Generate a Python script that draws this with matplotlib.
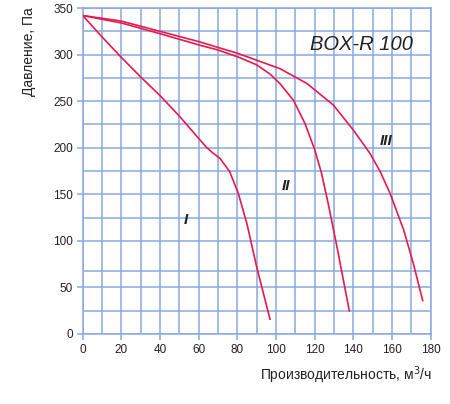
import matplotlib.pyplot as plt
import numpy as np

plt.rcParams['font.family'] = ['Liberation Sans', 'DejaVu Sans']

# curve I
x1 = [0, 10, 20, 30, 40, 50, 60, 64, 67, 71, 76, 80.5, 85, 90, 97]
y1 = [342, 319, 297, 276, 256, 234, 210, 200.5, 195, 188.6, 174.5, 151, 118, 72, 15]
# curve II
x2 = [0, 20, 40, 60, 70, 81, 90, 97, 102, 109, 115, 120, 123.5, 127, 131.5, 138]
y2 = [342, 334, 322.5, 310.5, 305, 297, 289, 279, 269, 251, 226, 198, 173, 140, 94, 24]
# curve III
x3 = [0, 20, 40, 60, 80, 90, 102, 116, 129.6, 140, 148.6, 154, 159, 166, 171, 176]
y3 = [342, 336, 325, 314, 301.5, 294, 285, 269, 246, 219, 194, 174, 151, 112, 76, 35]

xticks = np.arange(0, 181, 20)
yticks = np.arange(0, 351, 50)
xgrid = np.arange(0, 181, 10)
ygrid = [25, 68, 125, 175, 225, 275, 325]

grid_c = '#89a9df'
curve_c = '#e8194b'
text_c = '#222222'

fig = plt.figure(figsize=(4.5, 4.04), dpi=100)
ax = fig.add_axes([0.1838, 0.1733, 0.957 - 0.1838, 0.980 - 0.1733])
ax.set_xlim(0, 180)
ax.set_ylim(0, 350)

for v in xgrid:
    ax.axvline(v, color=grid_c, lw=1.1, zorder=1)
for v in list(yticks) + ygrid:
    ax.axhline(v, color=grid_c, lw=1.1, zorder=1)

for s in ax.spines.values():
    s.set_color(grid_c)
    s.set_linewidth(1.1)

ax.set_xticks(xticks)
ax.set_yticks(yticks)
ax.tick_params(colors=grid_c, labelcolor=text_c, labelsize=8.5, length=4, width=1.1, pad=3)

for xs, ys in [(x1, y1), (x2, y2), (x3, y3)]:
    ax.plot(xs, ys, color=curve_c, lw=1.2, zorder=3, solid_capstyle='butt',
            solid_joinstyle='round')

ax.text(117.5, 305, 'BOX-R 100', fontsize=14.5, style='italic', color=text_c, zorder=4)
ax.text(53.5, 122, 'I', fontsize=11, style='italic', fontweight='bold', color=text_c, ha='center', va='center')
ax.text(105, 159, 'II', fontsize=11, style='italic', fontweight='bold', color=text_c, ha='center', va='center')
ax.text(157, 207.5, 'III', fontsize=11, style='italic', fontweight='bold', color=text_c, ha='center', va='center')

fig.text(432 / 450, 1 - 375 / 404, 'Производительность, м$^3$/ч', fontsize=10, color=text_c,
         ha='right', va='center')
fig.text(29 / 450, 1 - 52 / 404, 'Давление, Па', fontsize=10, color=text_c, rotation=90,
         ha='center', va='center')

fig.savefig('out.png', dpi=100)
